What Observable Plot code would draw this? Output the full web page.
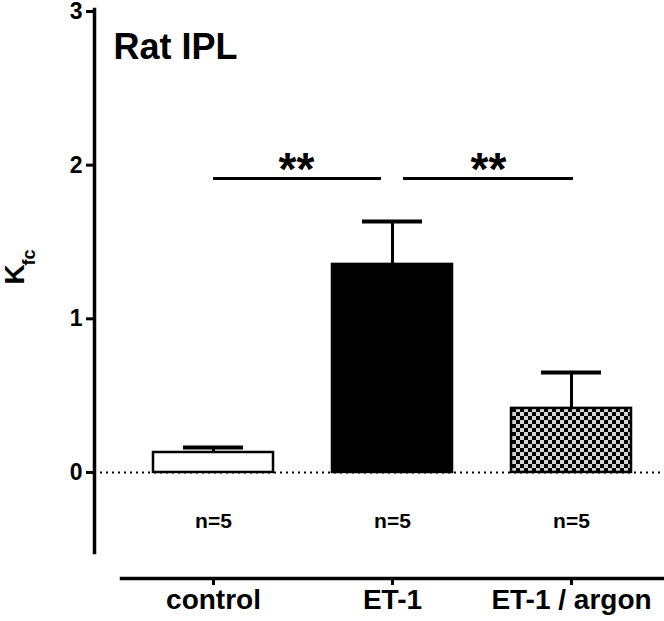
<!DOCTYPE html>
<html><head><meta charset="utf-8">
<script src="https://cdn.jsdelivr.net/npm/d3@7"></script>
<script src="https://cdn.jsdelivr.net/npm/@observablehq/plot@0.6"></script>
<style>body{margin:0;background:#fff} #chart svg{display:block}</style>
</head><body><div id="chart"></div>
<script>
// ---- data ----
const groups = ["control", "ET-1", "ET-1 / argon"];
const means = [0.13, 1.354, 0.417];
const sems = [0.032, 0.28, 0.234];
const nLabels = ["n=5", "n=5", "n=5"];
const yTicks = [0, 1, 2, 3];
const sigFrom = ["control", "ET-1"];
const sigTo = ["ET-1", "ET-1 / argon"];
const sigLabels = ["**", "**"];
const sigLevel = 1.913;
const nLabelLevel = -0.32;
const yDomain = [-0.69, 3];
const title = "Rat IPL";
const yLabelMain = "K";
const yLabelSub = "fc";

const data = groups.map((g, i) => ({group: g, mean: means[i], top: means[i] + sems[i], n: nLabels[i]}));
const sig = sigFrom.map((f, i) => ({from: f, to: sigTo[i], y: sigLevel, label: sigLabels[i], i}));

const font = "'Liberation Sans', Arial, Helvetica, sans-serif";

const plot = Plot.plot({
  width: 664, height: 621,
  marginLeft: 94, marginRight: 0, marginTop: 11, marginBottom: 43,
  style: {fontFamily: font, background: "white", color: "black", overflow: "visible"},
  x: {domain: groups, range: [152, 632], paddingInner: 0.328, paddingOuter: 0},
  y: {domain: yDomain},
  color: {domain: groups, range: ["white", "black", "url(#checker)"]},
  marks: [
    Plot.ruleY([0], {strokeDasharray: "2,4", strokeWidth: 2}),
    Plot.ruleX(data, {x: "group", y1: "mean", y2: "top", strokeWidth: 3}),
    Plot.tickY(data, {x: "group", y: "top", strokeWidth: 4, insetLeft: 30, insetRight: 30}),
    Plot.barY(data, {x: "group", y: "mean", fill: "group", stroke: "black", strokeWidth: 2.5}),
    Plot.frame({anchor: "left", strokeWidth: 3.5, insetBottom: 26, insetTop: -2}),
    Plot.frame({anchor: "bottom", strokeWidth: 3.5, insetLeft: 27}),
    Plot.axisY({ticks: yTicks, tickSize: 8, tickPadding: 4, tickFormat: d3.format("d"), fontSize: 23, fontWeight: "bold", strokeWidth: 3, label: null}),
    Plot.axisX({tickSize: 7, tickPadding: 4, fontSize: 28, fontWeight: "bold", strokeWidth: 3, label: null}),
    Plot.ruleY(sig, {filter: d => d.i === 0, x1: "from", x2: "to", y: "y", strokeWidth: 3, insetLeft: 60, insetRight: 71}),
    Plot.ruleY(sig, {filter: d => d.i === 1, x1: "from", x2: "to", y: "y", strokeWidth: 3, insetLeft: 71, insetRight: 58}),
    Plot.text(sig, {filter: d => d.i === 0, x: "to", y: "y", text: "label", dx: -96, dy: 6, lineAnchor: "bottom", fontSize: 46, fontWeight: "bold"}),
    Plot.text(sig, {filter: d => d.i === 1, x: "from", y: "y", text: "label", dx: 96, dy: 6, lineAnchor: "bottom", fontSize: 46, fontWeight: "bold"}),
    Plot.text(data, {x: "group", y: () => nLabelLevel, text: "n", fontSize: 21, fontWeight: "bold"}),
    Plot.text([title], {text: d => d, frameAnchor: "top-left", textAnchor: "start", lineAnchor: "top", dx: 19, dy: 22, fontSize: 36, fontWeight: "bold"}),
    Plot.text([yLabelMain], {text: d => d, frameAnchor: "left", rotate: -90, dx: -79.5, dy: -10.5, fontSize: 28, fontWeight: "bold"}),
    Plot.text([yLabelSub], {text: d => d, frameAnchor: "left", rotate: -90, dx: -65.5, dy: -29.5, fontSize: 18, fontWeight: "bold"})
  ]
});

const svg = d3.select(plot);
const pat = svg.insert("defs", ":first-child").append("pattern")
  .attr("id", "checker").attr("patternUnits", "userSpaceOnUse")
  .attr("width", 8).attr("height", 8);
pat.append("rect").attr("width", 8).attr("height", 8).attr("fill", "#d4d4d4");
pat.append("rect").attr("width", 4).attr("height", 4).attr("fill", "black");
pat.append("rect").attr("x", 4).attr("y", 4).attr("width", 4).attr("height", 4).attr("fill", "black");

document.getElementById("chart").appendChild(plot);
</script>
</body></html>
